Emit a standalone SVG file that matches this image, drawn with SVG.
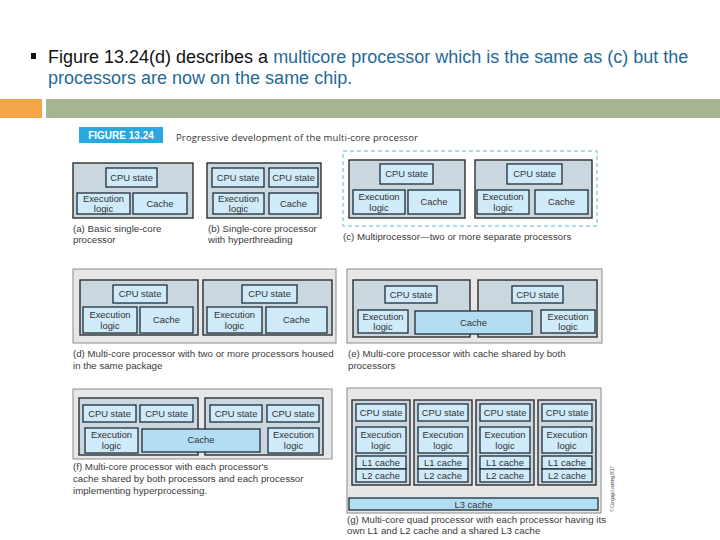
<svg xmlns="http://www.w3.org/2000/svg" width="720" height="540" viewBox="0 0 720 540">
<style>
.hdr{font-family:"Liberation Sans",Arial,sans-serif;font-size:18px;fill:#111}
.blue{fill:#1f6a9a}
.pkg{fill:#e6e7e8;stroke:#8c8c8c;stroke-width:1}
.proc{fill:#cbd7df;stroke:#2e2e2e;stroke-width:1.4}
.comp{fill:#cfeaf9;stroke:#1f2d3a;stroke-width:1.3}
.shared{fill:#b3ddf3;stroke:#1f2d3a;stroke-width:1.3}
.lbl{font-family:"Liberation Sans",Arial,sans-serif;font-size:9.4px;fill:#333;text-anchor:middle}
.cap{font-family:"Liberation Sans",Arial,sans-serif;font-size:9.7px;fill:#3a3a3a}
</style>
<rect width="720" height="540" fill="#ffffff"/>
<g id="header">
<rect x="31" y="53" width="5" height="6" fill="#111"/>
<text class="hdr" x="48" y="63">Figure 13.24(d) describes a <tspan class="blue">multicore processor which is the same as (c) but the</tspan></text>
<text class="hdr blue" x="48" y="84">processors are now on the same chip.</text>
<rect x="0" y="99" width="42" height="19" fill="#f4a646"/>
<rect x="46" y="99" width="674" height="19" fill="#a5b592"/>
</g>
<g id="figure-title">
<rect x="79" y="127" width="84" height="16" fill="#29a8e0"/>
<text x="121" y="139" font-family="'Liberation Sans',Arial,sans-serif" font-size="10" font-weight="bold" fill="#fff" text-anchor="middle">FIGURE 13.24</text>
<text x="176" y="141" font-family="'Open Sans','Liberation Sans',sans-serif" font-size="9.5" fill="#333" textLength="242">Progressive development of the multi-core processor</text>
</g>
<g id="panel-a">
<rect class="proc" x="73" y="163" width="120" height="55"/>
<rect class="comp" x="106" y="168" width="51" height="19"/><text class="lbl" x="131.5" y="180.5">CPU state</text>
<rect class="comp" x="77" y="193" width="53" height="21"/><text class="lbl" x="103.5" y="202">Execution</text><text class="lbl" x="103.5" y="212">logic</text>
<rect class="comp" x="133" y="193" width="54" height="21"/><text class="lbl" x="160" y="207">Cache</text>
<text class="cap" x="73" y="232">(a) Basic single-core</text><text class="cap" x="73" y="243">processor</text>
</g>
<g id="panel-b">
<rect class="proc" x="207" y="163" width="114" height="55"/>
<rect class="comp" x="212" y="168" width="52" height="19"/><text class="lbl" x="238" y="180.5">CPU state</text>
<rect class="comp" x="269" y="168" width="49" height="19"/><text class="lbl" x="293.5" y="180.5">CPU state</text>
<rect class="comp" x="213" y="193" width="51" height="21"/><text class="lbl" x="238.5" y="202">Execution</text><text class="lbl" x="238.5" y="212">logic</text>
<rect class="comp" x="269" y="193" width="49" height="21"/><text class="lbl" x="293.5" y="207">Cache</text>
<text class="cap" x="208" y="232">(b) Single-core processor</text><text class="cap" x="208" y="243">with hyperthreading</text>
</g>
<g id="panel-c">
<rect x="343" y="151" width="254" height="75" fill="none" stroke="#5bb8d0" stroke-width="1" stroke-dasharray="4,3"/>
<rect class="proc" x="349" y="160" width="116" height="58"/>
<rect class="comp" x="380" y="164" width="53" height="20"/><text class="lbl" x="406.5" y="177">CPU state</text>
<rect class="comp" x="353" y="190" width="52" height="24"/><text class="lbl" x="379" y="200">Execution</text><text class="lbl" x="379" y="210.5">logic</text>
<rect class="comp" x="408" y="190" width="52" height="24"/><text class="lbl" x="434" y="205">Cache</text>
<rect class="proc" x="475" y="160" width="117" height="58"/>
<rect class="comp" x="507" y="164" width="55" height="20"/><text class="lbl" x="534.5" y="177">CPU state</text>
<rect class="comp" x="477" y="190" width="52" height="24"/><text class="lbl" x="503" y="200">Execution</text><text class="lbl" x="503" y="210.5">logic</text>
<rect class="comp" x="535" y="190" width="53" height="24"/><text class="lbl" x="561.5" y="205">Cache</text>
<text class="cap" x="343" y="240">(c) Multiprocessor—two or more separate processors</text>
</g>
<g id="panel-d">
<rect class="pkg" x="73" y="269" width="263" height="74"/>
<rect class="proc" x="80" y="280" width="118" height="55"/>
<rect class="comp" x="113" y="285" width="54" height="18"/><text class="lbl" x="140" y="297">CPU state</text>
<rect class="comp" x="83" y="307" width="54" height="26"/><text class="lbl" x="110" y="318">Execution</text><text class="lbl" x="110" y="329">logic</text>
<rect class="comp" x="140" y="307" width="53" height="26"/><text class="lbl" x="166.5" y="323">Cache</text>
<rect class="proc" x="203" y="280" width="129" height="55"/>
<rect class="comp" x="242" y="285" width="55" height="18"/><text class="lbl" x="269.5" y="297">CPU state</text>
<rect class="comp" x="207" y="307" width="55" height="26"/><text class="lbl" x="234.5" y="318">Execution</text><text class="lbl" x="234.5" y="329">logic</text>
<rect class="comp" x="266" y="307" width="61" height="26"/><text class="lbl" x="296.5" y="323">Cache</text>
<text class="cap" x="73" y="357">(d) Multi-core processor with two or more processors housed</text><text class="cap" x="73" y="369">in the same package</text>
</g>
<g id="panel-e">
<rect class="pkg" x="347" y="269" width="255" height="74"/>
<rect class="proc" x="353" y="280" width="117" height="57"/>
<rect class="proc" x="478" y="280" width="119" height="57"/>
<rect class="comp" x="385" y="286" width="52" height="17"/><text class="lbl" x="411" y="297.5">CPU state</text>
<rect class="comp" x="512" y="286" width="51" height="17"/><text class="lbl" x="537.5" y="297.5">CPU state</text>
<rect class="comp" x="358" y="310" width="50" height="23"/><text class="lbl" x="383" y="319.5">Execution</text><text class="lbl" x="383" y="330">logic</text>
<rect class="shared" x="415" y="311" width="117" height="23"/><text class="lbl" x="473.5" y="325.5">Cache</text>
<rect class="comp" x="541" y="310" width="54" height="23"/><text class="lbl" x="568" y="319.5">Execution</text><text class="lbl" x="568" y="330">logic</text>
<text class="cap" x="348" y="357">(e) Multi-core processor with cache shared by both</text><text class="cap" x="348" y="369">processors</text>
</g>
<g id="panel-f">
<rect class="pkg" x="73" y="389" width="259" height="70"/>
<rect class="proc" x="79" y="398" width="119" height="57"/>
<rect class="proc" x="205" y="398" width="118" height="57"/>
<rect class="comp" x="83" y="405" width="53" height="17"/><text class="lbl" x="109.5" y="416.5">CPU state</text>
<rect class="comp" x="140" y="405" width="53" height="17"/><text class="lbl" x="166.5" y="416.5">CPU state</text>
<rect class="comp" x="210" y="405" width="52" height="17"/><text class="lbl" x="236" y="416.5">CPU state</text>
<rect class="comp" x="267" y="405" width="52" height="17"/><text class="lbl" x="293" y="416.5">CPU state</text>
<rect class="comp" x="85" y="428" width="53" height="25"/><text class="lbl" x="111.5" y="438">Execution</text><text class="lbl" x="111.5" y="449">logic</text>
<rect class="shared" x="142" y="429" width="118" height="23"/><text class="lbl" x="201" y="443">Cache</text>
<rect class="comp" x="268" y="428" width="51" height="25"/><text class="lbl" x="293.5" y="438">Execution</text><text class="lbl" x="293.5" y="449">logic</text>
<text class="cap" x="73" y="470">(f) Multi-core processor with each processor's</text>
<text class="cap" x="73" y="482">cache shared by both processors and each processor</text>
<text class="cap" x="73" y="494">implementing hyperprocessing.</text>
</g>
<g id="panel-g">
<rect class="pkg" x="347" y="388" width="254" height="125"/>
<g id="core-1">
<rect class="proc" x="352" y="400" width="58" height="85"/>
<rect class="comp" x="356" y="404" width="50" height="17"/><text class="lbl" x="381" y="415.5">CPU state</text>
<rect class="comp" x="356" y="427" width="50" height="26"/><text class="lbl" x="381" y="438">Execution</text><text class="lbl" x="381" y="449">logic</text>
<rect class="comp" x="356" y="456" width="50" height="13"/><text class="lbl" x="381" y="466">L1 cache</text>
<rect class="comp" x="356" y="469" width="50" height="13"/><text class="lbl" x="381" y="479">L2 cache</text>
</g>
<g id="core-2">
<rect class="proc" x="414" y="400" width="58" height="85"/>
<rect class="comp" x="418" y="404" width="50" height="17"/><text class="lbl" x="443" y="415.5">CPU state</text>
<rect class="comp" x="418" y="427" width="50" height="26"/><text class="lbl" x="443" y="438">Execution</text><text class="lbl" x="443" y="449">logic</text>
<rect class="comp" x="418" y="456" width="50" height="13"/><text class="lbl" x="443" y="466">L1 cache</text>
<rect class="comp" x="418" y="469" width="50" height="13"/><text class="lbl" x="443" y="479">L2 cache</text>
</g>
<g id="core-3">
<rect class="proc" x="476" y="400" width="58" height="85"/>
<rect class="comp" x="480" y="404" width="50" height="17"/><text class="lbl" x="505" y="415.5">CPU state</text>
<rect class="comp" x="480" y="427" width="50" height="26"/><text class="lbl" x="505" y="438">Execution</text><text class="lbl" x="505" y="449">logic</text>
<rect class="comp" x="480" y="456" width="50" height="13"/><text class="lbl" x="505" y="466">L1 cache</text>
<rect class="comp" x="480" y="469" width="50" height="13"/><text class="lbl" x="505" y="479">L2 cache</text>
</g>
<g id="core-4">
<rect class="proc" x="538" y="400" width="58" height="85"/>
<rect class="comp" x="542" y="404" width="50" height="17"/><text class="lbl" x="567" y="415.5">CPU state</text>
<rect class="comp" x="542" y="427" width="50" height="26"/><text class="lbl" x="567" y="438">Execution</text><text class="lbl" x="567" y="449">logic</text>
<rect class="comp" x="542" y="456" width="50" height="13"/><text class="lbl" x="567" y="466">L1 cache</text>
<rect class="comp" x="542" y="469" width="50" height="13"/><text class="lbl" x="567" y="479">L2 cache</text>
</g>
<rect class="shared" x="349" y="498" width="249" height="12"/><text class="lbl" x="473.5" y="507.5">L3 cache</text>
<text class="cap" x="347" y="523">(g) Multi-core quad processor with each processor having its</text>
<text class="cap" x="347" y="534">own L1 and L2 cache and a shared L3 cache</text>
</g>
<text x="0" y="0" transform="translate(614,512) rotate(-90)" font-family="'Liberation Sans',Arial,sans-serif" font-size="5" fill="#666" textLength="46">© Cengage Learning 2017</text>
</svg>
